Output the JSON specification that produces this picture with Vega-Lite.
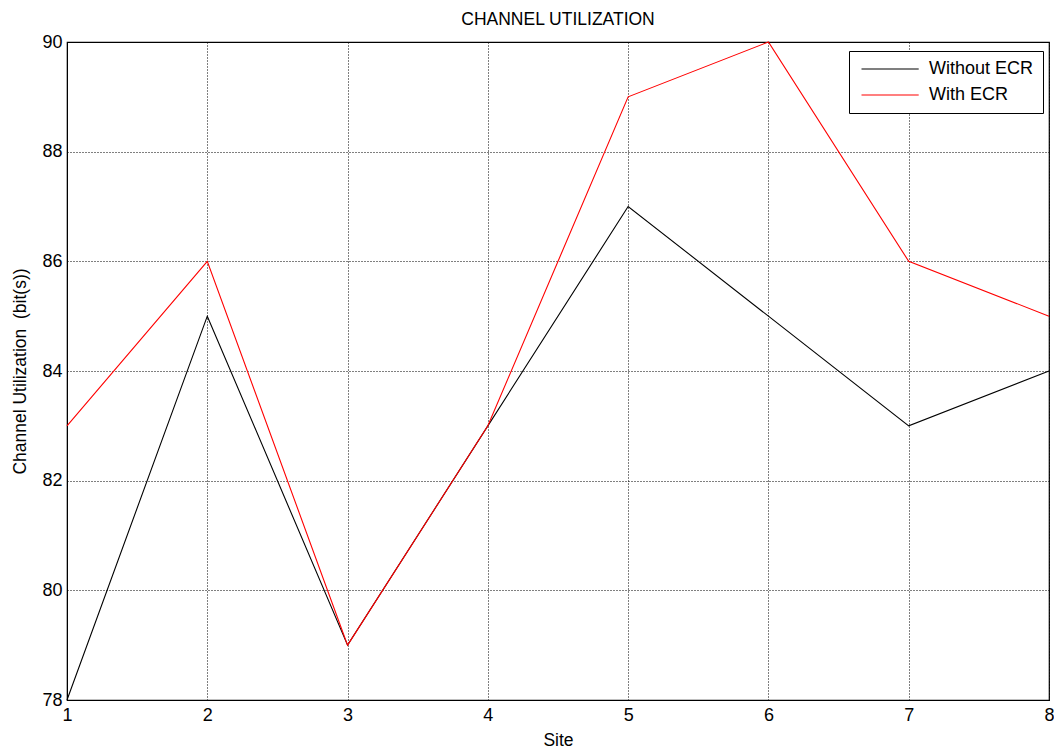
{
  "$schema": "https://vega.github.io/schema/vega-lite/v6.json",
  "width": 982,
  "height": 658,
  "autosize": {"type": "none"},
  "padding": {"left": 67, "top": 42, "right": 5, "bottom": 49},
  "background": "white",
  "title": {"text": "CHANNEL UTILIZATION", "font": "Liberation Sans", "fontSize": 17.5, "fontWeight": "normal", "color": "black", "offset": 5, "anchor": "middle"},
  "config": {
    "view": {"stroke": "black", "strokeWidth": 1.2},
    "axis": {"labelFont": "Liberation Sans", "titleFont": "Liberation Sans", "labelFontSize": 18, "titleFontSize": 17.5, "titleFontWeight": "normal", "labelColor": "black", "titleColor": "black", "domainColor": "black", "gridColor": "black", "gridDash": [1, 2], "gridOpacity": 1, "gridWidth": 1, "ticks": false, "labelFlush": false}
  },
  "data": {"values": [
    {"site": 1, "value": 78, "series": "Without ECR"},
    {"site": 2, "value": 85, "series": "Without ECR"},
    {"site": 3, "value": 79, "series": "Without ECR"},
    {"site": 4, "value": 83, "series": "Without ECR"},
    {"site": 5, "value": 87, "series": "Without ECR"},
    {"site": 6, "value": 85, "series": "Without ECR"},
    {"site": 7, "value": 83, "series": "Without ECR"},
    {"site": 8, "value": 84, "series": "Without ECR"},
    {"site": 1, "value": 83, "series": "With ECR"},
    {"site": 2, "value": 86, "series": "With ECR"},
    {"site": 3, "value": 79, "series": "With ECR"},
    {"site": 4, "value": 83, "series": "With ECR"},
    {"site": 5, "value": 89, "series": "With ECR"},
    {"site": 6, "value": 90, "series": "With ECR"},
    {"site": 7, "value": 86, "series": "With ECR"},
    {"site": 8, "value": 85, "series": "With ECR"}
  ]},
  "mark": {"type": "line", "strokeWidth": 1.1},
  "encoding": {
    "x": {"field": "site", "type": "quantitative", "scale": {"domain": [1, 8], "nice": false, "zero": false}, "axis": {"values": [1,2,3,4,5,6,7,8], "format": "d", "title": "Site", "labelPadding": 6, "titlePadding": 7}},
    "y": {"field": "value", "type": "quantitative", "scale": {"domain": [78, 90], "nice": false, "zero": false}, "axis": {"values": [78,80,82,84,86,88,90], "title": "Channel Utilization \u00a0(bit(s))", "labelPadding": 5, "titlePadding": 12}},
    "color": {"field": "series", "type": "nominal", "scale": {"domain": ["Without ECR", "With ECR"], "range": ["black", "red"]},
      "legend": {"title": null, "orient": "none", "legendX": 782, "legendY": 9, "strokeColor": "black", "fillColor": "white", "padding": 9, "symbolType": "M-1,0H9.4", "symbolSize": 121, "symbolStrokeWidth": 1.2, "labelFont": "Liberation Sans", "labelFontSize": 18, "labelColor": "black", "rowPadding": 8, "labelOffset": 53, "offset": 0}}
  }
}
